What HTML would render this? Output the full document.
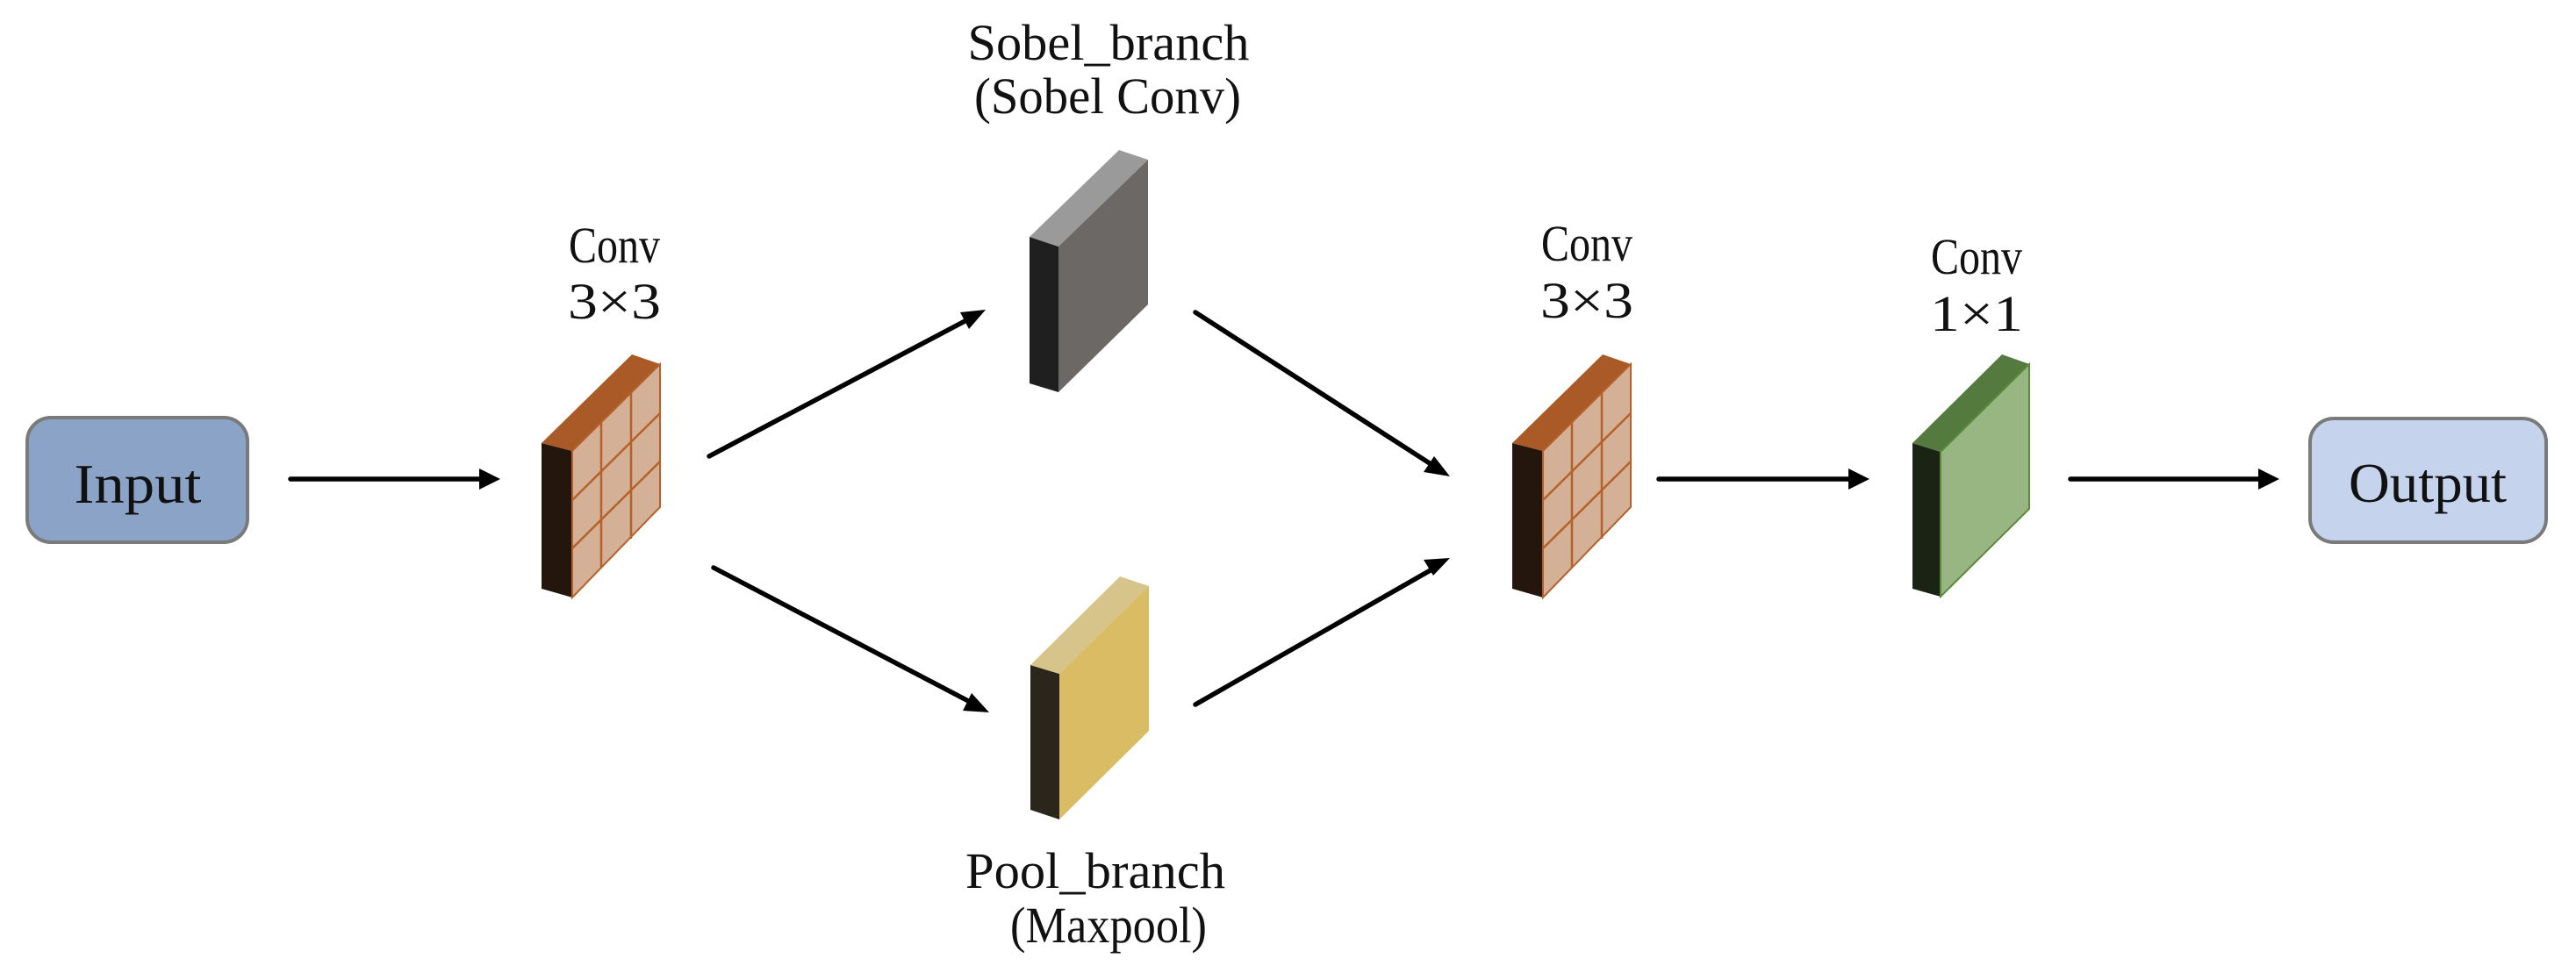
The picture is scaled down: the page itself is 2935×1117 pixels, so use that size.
<!DOCTYPE html>
<html><head><meta charset="utf-8"><style>
html,body{margin:0;padding:0;background:#fff;}
svg{display:block;}
text{font-family:"Liberation Serif","Noto Serif CJK SC",serif;fill:#111;}
</style></head><body>
<svg width="2935" height="1117" viewBox="0 0 2935 1117" xmlns="http://www.w3.org/2000/svg">
<rect width="2935" height="1117" fill="#fff"/>

<!-- Input box -->
<rect x="31" y="476" width="251" height="142" rx="27" ry="27" fill="#8ca3c8" stroke="#7a7a7a" stroke-width="4"/>
<text x="157" y="573" font-size="64" text-anchor="middle" textLength="145" lengthAdjust="spacingAndGlyphs">Input</text>

<!-- Output box -->
<rect x="2632" y="477" width="269" height="141" rx="27" ry="27" fill="#c5d3ec" stroke="#7a7a7a" stroke-width="4"/>
<text x="2766" y="572" font-size="64" text-anchor="middle" textLength="180" lengthAdjust="spacingAndGlyphs">Output</text>

<!-- arrows -->
<g stroke="#000" stroke-width="5.5" fill="none" stroke-linecap="round">
<line x1="331" y1="546" x2="550" y2="546"/>
<line x1="1890" y1="546" x2="2110" y2="546"/>
<line x1="2359" y1="546" x2="2577" y2="546"/>
<line x1="808" y1="520" x2="1105" y2="363"/>
<line x1="813" y1="647" x2="1109" y2="802"/>
<line x1="1362" y1="356" x2="1635" y2="532"/>
<line x1="1362" y1="803" x2="1635" y2="647"/>
</g>
<g fill="#000">
<polygon points="570,546 546,534 546,558"/>
<polygon points="2130,546 2106,534 2106,558"/>
<polygon points="2597,546 2573,534 2573,558"/>
<polygon points="1123,353 1094,356 1104,375" />
<polygon points="1127,812 1107,790 1097,810" />
<polygon points="1652,543 1634,520 1622,538" />
<polygon points="1652,636 1622,638 1633,656" />
</g>

<!-- Conv 3x3 block 1 -->
<g>
<polygon points="617,505 652,514 652,681 617,671" fill="#24160d"/>
<polygon points="617,505 720,404 752,415 652,514" fill="#a95a26"/>
<polygon points="652,514 752,415 752,578 652,681" fill="#d4b096" stroke="#b5622a" stroke-width="2"/>
<g stroke="#b5622a" stroke-width="2.5">
<line x1="685" y1="481" x2="685" y2="647"/>
<line x1="719" y1="448" x2="719" y2="614"/>
<line x1="652" y1="570" x2="752" y2="471"/>
<line x1="652" y1="625" x2="752" y2="526"/>
</g>
</g>
<text x="700" y="299" font-size="58" text-anchor="middle" textLength="104" lengthAdjust="spacingAndGlyphs">Conv</text>
<text x="700" y="363" font-size="58" text-anchor="middle" textLength="106" lengthAdjust="spacingAndGlyphs">3×3</text>

<!-- Conv 3x3 block 2 -->
<g transform="translate(1106,0)">
<polygon points="617,505 652,514 652,681 617,671" fill="#24160d"/>
<polygon points="617,505 720,404 752,415 652,514" fill="#a95a26"/>
<polygon points="652,514 752,415 752,578 652,681" fill="#d4b096" stroke="#b5622a" stroke-width="2"/>
<g stroke="#b5622a" stroke-width="2.5">
<line x1="685" y1="481" x2="685" y2="647"/>
<line x1="719" y1="448" x2="719" y2="614"/>
<line x1="652" y1="570" x2="752" y2="471"/>
<line x1="652" y1="625" x2="752" y2="526"/>
</g>
</g>
<text x="1808" y="297" font-size="58" text-anchor="middle" textLength="104" lengthAdjust="spacingAndGlyphs">Conv</text>
<text x="1808" y="362" font-size="58" text-anchor="middle" textLength="106" lengthAdjust="spacingAndGlyphs">3×3</text>

<!-- Sobel block -->
<polygon points="1173,270 1206,281 1206,447 1173,437" fill="#1f1f1f"/>
<polygon points="1173,270 1275,171 1308,182 1206,281" fill="#9a9a9a"/>
<polygon points="1206,281 1308,182 1308,347 1206,447" fill="#6b6866"/>
<text x="1263" y="68" font-size="58" text-anchor="middle" textLength="321" lengthAdjust="spacingAndGlyphs">Sobel_branch</text>
<text x="1262" y="129" font-size="58" text-anchor="middle" textLength="304" lengthAdjust="spacingAndGlyphs">(Sobel Conv)</text>

<!-- Pool block -->
<polygon points="1174,758 1207,768 1207,934 1174,923" fill="#2a261c"/>
<polygon points="1174,758 1276,657 1309,668 1207,768" fill="#d6c48a"/>
<polygon points="1207,768 1309,668 1309,833 1207,934" fill="#d9bc63"/>
<text x="1248" y="1012" font-size="58" text-anchor="middle" textLength="296" lengthAdjust="spacingAndGlyphs">Pool_branch</text>
<text x="1263" y="1074" font-size="58" text-anchor="middle" textLength="224" lengthAdjust="spacingAndGlyphs">(Maxpool)</text>

<!-- Conv 1x1 green -->
<polygon points="2179,505 2211,515 2211,680 2179,671" fill="#1a2414"/>
<polygon points="2179,505 2281,404 2312,415 2211,515" fill="#557a3f"/>
<polygon points="2211,515 2312,415 2312,580 2211,680" fill="#98b681" stroke="#5a8a3a" stroke-width="2"/>
<text x="2252" y="312" font-size="58" text-anchor="middle" textLength="104" lengthAdjust="spacingAndGlyphs">Conv</text>
<text x="2252" y="377" font-size="58" text-anchor="middle" textLength="106" lengthAdjust="spacingAndGlyphs">1×1</text>
</svg>
</body></html>
